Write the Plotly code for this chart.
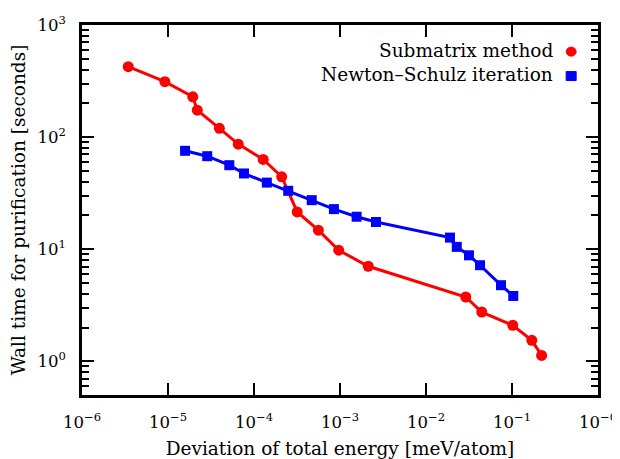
import plotly.graph_objects as go

# Submatrix method
sub_dev = [3.45e-6, 9.2e-6, 1.94e-5, 2.19e-5, 3.96e-5, 6.56e-5, 1.28e-4, 2.1e-4,
           3.18e-4, 5.6e-4, 9.66e-4, 2.13e-3, 0.029, 0.0445, 0.102, 0.170, 0.221]
sub_time = [425, 312, 229, 174, 119.7, 86.6, 63.2, 44.3,
            21.5, 14.8, 9.8, 7.05, 3.75, 2.75, 2.10, 1.54, 1.13]

# Newton-Schulz iteration
ns_dev = [1.58e-5, 2.86e-5, 5.16e-5, 7.65e-5, 1.41e-4, 2.5e-4, 4.69e-4, 8.5e-4,
          1.56e-3, 2.62e-3, 0.019, 0.0228, 0.0316, 0.0425, 0.0745, 0.1035]
ns_time = [75.5, 67.6, 56.2, 47.4, 39.3, 33.2, 27.4, 22.8,
           19.5, 17.5, 12.7, 10.5, 8.83, 7.2, 4.78, 3.83]

x_tickvals = [1e-6, 1e-5, 1e-4, 1e-3, 1e-2, 1e-1, 1]
x_ticktext = ["10<sup>−6</sup>", "10<sup>−5</sup>", "10<sup>−4</sup>", "10<sup>−3</sup>",
              "10<sup>−2</sup>", "10<sup>−1</sup>", "10<sup>−0</sup>"]
y_tickvals = [1, 10, 100, 1000]
y_ticktext = ["10<sup>0</sup>", "10<sup>1</sup>", "10<sup>2</sup>", "10<sup>3</sup>"]

RED = "#ff0000"
BLUE = "#0000ff"
FONT = "DejaVu Serif"

fig = go.Figure()
fig.add_trace(go.Scatter(x=sub_dev, y=sub_time, mode="lines+markers", name="Submatrix method",
                         line=dict(color=RED, width=3), marker=dict(color=RED, size=11, symbol="circle")))
fig.add_trace(go.Scatter(x=ns_dev, y=ns_time, mode="lines+markers", name="Newton–Schulz iteration",
                         line=dict(color=BLUE, width=3), marker=dict(color=BLUE, size=10, symbol="square")))

# legend drawn by hand: text right-aligned, key to the right
for label, ty, my, color, kind in (("Submatrix method", 0.932, 0.928, RED, "circle"),
                                   ("Newton–Schulz iteration", 0.867, 0.862, BLUE, "rect")):
    fig.add_annotation(text=label, xref="paper", yref="paper", x=0.917, y=ty,
                       xanchor="right", yanchor="middle", showarrow=False,
                       font=dict(family=FONT, size=18.5, color="black"))
    fig.add_shape(type=kind, xref="paper", yref="paper", xsizemode="pixel", ysizemode="pixel",
                  xanchor=0.948, yanchor=my, x0=-5, x1=5, y0=-4.5, y1=4.5,
                  fillcolor=color, line=dict(color=color, width=1))

axis_common = dict(type="log", showline=True, linecolor="black", linewidth=2.5, mirror="ticks",
                   ticks="inside", ticklen=12, tickwidth=2, tickcolor="black", showgrid=False,
                   zeroline=False, automargin=False, ticklabeloverflow="allow",
                   tickfont=dict(family=FONT, size=16.5, color="black"))
fig.update_xaxes(range=[-6, 0], tickmode="array", tickvals=x_tickvals, ticktext=x_ticktext,
                 ticklabelstandoff=10,
                 title=dict(text="Deviation of total energy [meV/atom]", standoff=30,
                            font=dict(family=FONT, size=18.5, color="black")),
                 **axis_common)
fig.update_yaxes(range=[-0.3, 3], tickmode="array", tickvals=y_tickvals, ticktext=y_ticktext,
                 ticklabelstandoff=10,
                 minor=dict(ticks="inside", ticklen=7, tickwidth=2, tickcolor="black",
                            dtick="D1", showgrid=False),
                 title=dict(text="Wall time for purification [seconds]", standoff=10,
                            font=dict(family=FONT, size=18.5, color="black")),
                 **axis_common)
# the page body adds an 8px offset, so margins are reduced by that much
fig.update_layout(width=612, height=451, showlegend=False,
                  paper_bgcolor="white", plot_bgcolor="white",
                  margin=dict(l=74, r=22, t=17, b=64))
fig.write_html("out.html")
